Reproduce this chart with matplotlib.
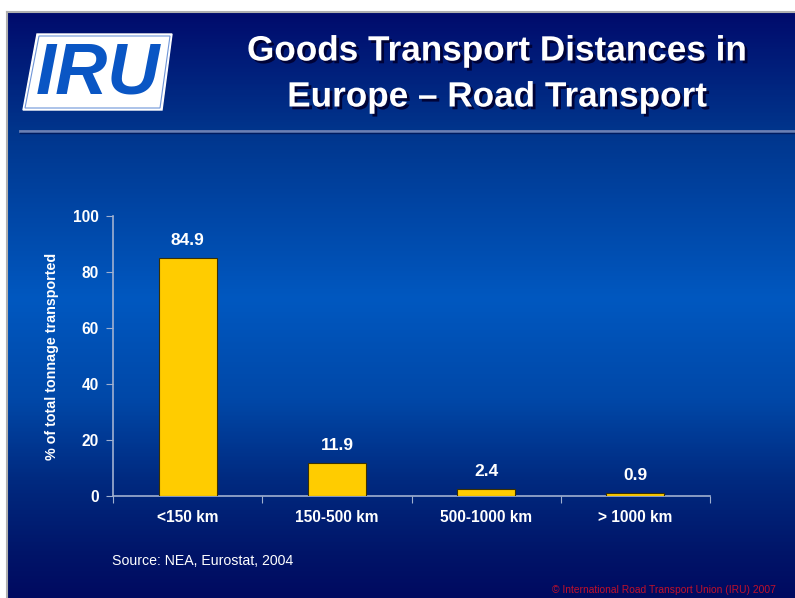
import numpy as np
import matplotlib
matplotlib.use("Agg")
import matplotlib.pyplot as plt
from matplotlib.colors import LinearSegmentedColormap
from matplotlib.patches import Polygon
import matplotlib.patheffects as pe

# data
categories = ["<150 km", "150-500 km", "500-1000 km", "> 1000 km"]
shares = [84.9, 11.9, 2.4, 0.9]
value_labels = ["84.9", "11.9", "2.4", "0.9"]
y_ticks = [0, 20, 40, 60, 80, 100]

W, H = 795, 598
fig = plt.figure(figsize=(W / 100, H / 100), dpi=100)
fig.patch.set_facecolor("white")

# slide background (gradient), slide starts a bit right / below the image corner
sx0, sy0 = 7, 12
bg = fig.add_axes([sx0 / W, 0, 1 - sx0 / W, 1 - sy0 / H])
bg.set_axis_off()
stops = [(0.0, "#000b6c"), (0.2, "#00358c"), (0.49, "#0058c0"),
         (0.66, "#0048a8"), (0.8, "#002a80"), (0.93, "#001468"), (1.0, "#000a60")]
cmap = LinearSegmentedColormap.from_list("slide", stops)
grad = np.linspace(0, 1, 400).reshape(-1, 1)
bg.imshow(grad, cmap=cmap, aspect="auto", extent=[0, 1, 0, 1], origin="upper")
bg.set_xlim(0, 1)
bg.set_ylim(0, 1)

# overlay axes in pixel coordinates (y downwards)
ov = fig.add_axes([0, 0, 1, 1])
ov.set_xlim(0, W)
ov.set_ylim(H, 0)
ov.set_axis_off()
ov.patch.set_alpha(0)

# slide border
ov.plot([sx0, W], [sy0, sy0], color="#b0b0b0", lw=1.5)
ov.plot([sx0, sx0], [sy0, H], color="#b0b0b0", lw=1.5)

# IRU logo
ov.add_patch(Polygon([(37, 34), (172, 34), (162, 110), (23, 110)],
                     closed=True, facecolor="white", edgecolor="white", zorder=3))
ov.add_patch(Polygon([(39, 36), (170, 36), (160, 108), (25, 108)],
                     closed=True, facecolor="none", edgecolor="#6f95d8", lw=0.8, zorder=4))
ov.text(98, 74, "IRU", fontsize=52, fontweight="bold", style="italic",
        family="Liberation Sans", color="#0a56c4", ha="center", va="center", zorder=5)

# title with drop shadow
title_kw = dict(fontsize=25.3, fontweight="bold", family="Liberation Sans",
                color="white", ha="center", va="center",
                path_effects=[pe.SimplePatchShadow(offset=(2, -2), shadow_rgbFace="#000030", alpha=0.9),
                              pe.Normal()])
ov.text(497, 51, "Goods Transport Distances in", **title_kw)
ov.text(497, 97, "Europe \u2013 Road Transport", **title_kw)

# separator line
ov.plot([20, W], [131, 131], color="#6b80b4", lw=2.0)
ov.plot([20, W], [133, 133], color="#001c60", lw=1.0)

# source and copyright
ov.text(112, 561, "Source: NEA, Eurostat, 2004", fontsize=10.2, family="Liberation Sans",
        color="white", ha="left", va="center")
ov.text(552, 590, "\u00a9 International Road Transport Union (IRU) 2007", fontsize=7.4,
        family="Liberation Sans", color="#c0102a", ha="left", va="center")

# chart
ax0, ax1 = 113, 710
ay0, ay1 = 216, 496
ax = fig.add_axes([ax0 / W, 1 - ay1 / H, (ax1 - ax0) / W, (ay1 - ay0) / H])
ax.patch.set_alpha(0)
x = np.arange(len(categories))
ax.bar(x, shares, width=0.39, color="#ffcc00", edgecolor="#3a3000", linewidth=0.8, zorder=3)
for xi, v, lab in zip(x, shares, value_labels):
    ax.text(xi, v + 3.6, lab, ha="center", va="bottom", color="white",
            fontsize=12.5, fontweight="bold", family="Liberation Sans")
ax.set_xlim(-0.5, 3.5)
ax.set_ylim(0, 100)
ax.set_yticks(y_ticks)
ax.set_xticks(np.arange(-0.5, 4.0, 1.0), minor=False)
ax.set_xticklabels([])
ax.set_xticks(x, minor=True)
ax.set_xticklabels(categories, minor=True)
ax.tick_params(axis="x", which="minor", length=0, pad=10)
ax.tick_params(axis="x", which="major", length=5, color="#a0b0d0", direction="out")
ax.tick_params(axis="y", length=5, color="#a0b0d0", direction="out", pad=5)
for lab in ax.get_xticklabels(minor=True) + ax.get_yticklabels():
    lab.set_color("white")
    lab.set_fontweight("bold")
    lab.set_fontsize(11.2)
    lab.set_family("Liberation Sans")
for side in ["top", "right"]:
    ax.spines[side].set_visible(False)
for side in ["left", "bottom"]:
    ax.spines[side].set_color("#a0b0d0")
    ax.spines[side].set_linewidth(1.2)
ax.set_ylabel("% of total tonnage transported", color="white", fontsize=10.3,
              fontweight="bold", family="Liberation Sans", labelpad=10)

fig.savefig("out.png", dpi=100)
